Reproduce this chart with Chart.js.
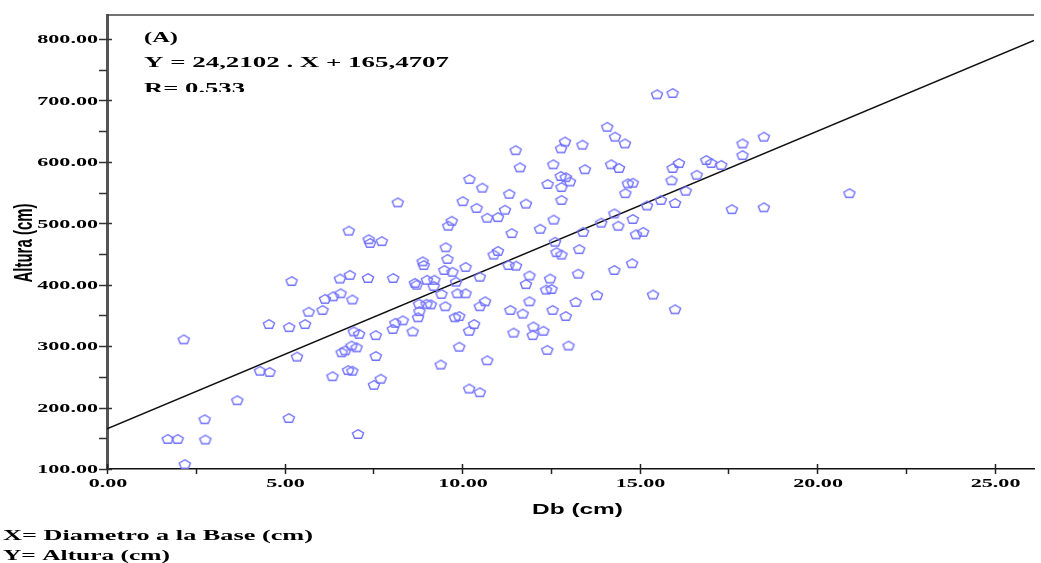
<!DOCTYPE html>
<html>
<head>
<meta charset="utf-8">
<script src="https://cdn.jsdelivr.net/npm/chart.js@4.4.1/dist/chart.umd.min.js"></script>
<style>
  html, body { margin: 0; padding: 0; background: #fff; }
</style>
</head>
<body>
<canvas id="chart" width="1041" height="563"></canvas>
<script>
// ---- Data ----
const dbValues = [
  1.71, 1.99, 2.19, 2.16, 2.75, 2.77, 3.67, 4.31, 4.58, 5.12,
  5.35, 4.56, 5.13, 5.58, 5.20, 5.68, 6.07, 6.14, 6.37, 6.58,
  6.91, 6.56, 6.84, 6.81, 6.95, 7.10, 6.61, 6.71, 6.89, 7.03,
  6.79, 6.91, 6.35, 7.07, 11.51, 11.63, 12.57, 10.21, 10.57, 11.33,
  12.41, 8.19, 10.02, 10.41, 11.80, 11.21, 10.71, 11.01, 12.58, 9.71,
  9.61, 7.37, 7.41, 7.74, 11.40, 12.20, 12.62, 9.54, 11.01, 10.89,
  9.59, 12.66, 12.80, 8.89, 8.92, 10.10, 9.50, 9.73, 11.31, 11.52,
  7.35, 8.06, 10.50, 11.90, 12.48, 8.67, 8.72, 9.01, 9.22, 9.20,
  9.83, 11.80, 9.42, 9.87, 10.10, 12.52, 12.37, 10.65, 10.50, 11.90,
  8.79, 9.00, 9.12, 9.53, 8.80, 8.76, 11.36, 11.71, 12.55, 9.80,
  9.92, 8.12, 8.33, 8.05, 8.61, 10.34, 10.20, 11.45, 12.01, 12.29,
  11.99, 7.57, 7.57, 9.92, 12.40, 9.40, 10.71, 7.71, 7.52, 10.20,
  10.50, 15.49, 15.93, 14.09, 14.31, 14.59, 12.90, 12.79, 13.39, 17.90,
  18.50, 17.90, 13.46, 14.20, 14.42, 12.78, 12.92, 13.04, 12.80, 16.11,
  15.93, 16.88, 17.02, 17.30, 14.67, 14.81, 15.90, 16.61, 14.60, 12.80,
  16.30, 15.60, 16.00, 15.21, 17.60, 18.50, 14.29, 14.81, 13.92, 14.40,
  13.41, 14.90, 15.10, 13.30, 14.79, 14.29, 13.27, 13.80, 13.20, 15.38,
  16.00, 12.92, 13.00, 20.91
];
const alturaValues = [
  149, 149, 108, 311, 181, 148, 212, 260, 258, 183,
  283, 336, 331, 336, 406, 356, 359, 377, 381, 386,
  376, 410, 416, 488, 324, 320, 290, 293, 301, 298,
  261, 260, 251, 157, 619, 591, 596, 572, 558, 548,
  564, 534, 536, 525, 532, 522, 509, 510, 506, 504,
  496, 474, 468, 471, 484, 491, 470, 461, 455, 449,
  442, 453, 449, 438, 432, 429, 424, 421, 432, 431,
  411, 411, 413, 415, 410, 403, 400, 408, 408, 398,
  405, 401, 385, 386, 386, 393, 392, 373, 365, 373,
  369, 369, 368, 365, 357, 347, 359, 353, 359, 347,
  349, 338, 342, 328, 324, 336, 325, 322, 332, 325,
  318, 318, 284, 299, 294, 270, 277, 247, 237, 231,
  225, 710, 712, 657, 641, 630, 633, 622, 628, 630,
  641, 611, 588, 596, 590, 577, 575, 568, 559, 598,
  590, 603, 598, 595, 565, 566, 570, 579, 549, 538,
  553, 538, 533, 529, 523, 526, 516, 507, 501, 496,
  486, 482, 486, 458, 435, 424, 418, 383, 372, 384,
  360, 349, 301, 549
];

// regression from the annotation
const slope = 24.2102;
const intercept = 165.4707;

// axis ranges and ticks
const xMin = 0, xMax = 26.11;
const yMin = 100, yMax = 839;
const xTicks = [0, 5, 10, 15, 20, 25];
const xTickLabels = ['0.00', '5.00', '10.00', '15.00', '20.00', '25.00'];
const xMinorTicks = [2.5, 7.5, 12.5, 17.5, 22.5];
const yTicks = [100, 200, 300, 400, 500, 600, 700, 800];
const yTickLabels = ['100.00', '200.00', '300.00', '400.00', '500.00', '600.00', '700.00', '800.00'];
const yMinorTicks = [150, 250, 350, 450, 550, 650, 750];

const SERIF = '"Liberation Serif", "Times New Roman", serif';
const SANS = '"Liberation Sans", Arial, sans-serif';
const SX = 1.7; // the source picture is stretched sideways

// pentagon marker
function makePentagon() {
    const c = document.createElement('canvas');
    c.width = 16;
    c.height = 14;
    const g = c.getContext('2d');
    g.strokeStyle = 'rgb(112,112,255)';
    g.lineWidth = 1.35;
    g.beginPath();
    for (let i = 0; i < 5; i++) {
        const a = -Math.PI / 2 + i * 2 * Math.PI / 5;
        const px = 8 + 5.9 * Math.cos(a);
        const py = 7.4 + 4.7 * Math.sin(a);
        if (i === 0) g.moveTo(px, py); else g.lineTo(px, py);
    }
    g.closePath();
    g.stroke();
    return c;
}

function fitText(ctx, text, x, y, width, font) {
    ctx.save();
    ctx.font = font;
    const w = ctx.measureText(text).width;
    ctx.translate(x, y);
    ctx.scale(width / w, 1);
    ctx.textAlign = 'left';
    ctx.fillText(text, 0, 0);
    ctx.restore();
}

const decorPlugin = {
    id: 'decor',
    afterDraw(chart) {
        const ctx = chart.ctx;
        const { left, right, top, bottom } = chart.chartArea;
        const xs = chart.scales.x, ys = chart.scales.y;
        ctx.save();

        // frame top
        ctx.strokeStyle = '#444';
        ctx.lineWidth = 1.5;
        ctx.beginPath();
        ctx.moveTo(left, top);
        ctx.lineTo(right, top);
        ctx.stroke();

        // y ticks
        ctx.strokeStyle = '#333';
        ctx.lineWidth = 1.5;
        yTicks.forEach(v => {
            const p = Math.round(ys.getPixelForValue(v)) + 0.5;
            ctx.beginPath(); ctx.moveTo(left - 8, p); ctx.lineTo(left + 5, p); ctx.stroke();
        });
        yMinorTicks.forEach(v => {
            const p = Math.round(ys.getPixelForValue(v)) + 0.5;
            ctx.beginPath(); ctx.moveTo(left - 8, p); ctx.lineTo(left, p); ctx.stroke();
        });
        // x ticks
        ctx.strokeStyle = '#222';
        xTicks.forEach(v => {
            const p = Math.round(xs.getPixelForValue(v)) + 0.5;
            ctx.beginPath(); ctx.moveTo(p, bottom - 5); ctx.lineTo(p, bottom + 5); ctx.stroke();
        });
        xMinorTicks.forEach(v => {
            const p = Math.round(xs.getPixelForValue(v)) + 0.5;
            ctx.beginPath(); ctx.moveTo(p, bottom); ctx.lineTo(p, bottom + 5); ctx.stroke();
        });

        // tick labels
        ctx.fillStyle = '#000';
        ctx.font = 'bold 13px ' + SERIF;
        yTicks.forEach((v, i) => {
            const p = ys.getPixelForValue(v);
            ctx.save();
            ctx.translate(left - 9, p + 1);
            ctx.scale(SX, 1);
            ctx.textAlign = 'right';
            ctx.textBaseline = 'middle';
            ctx.fillText(yTickLabels[i], 0, 0);
            ctx.restore();
        });
        xTicks.forEach((v, i) => {
            const p = xs.getPixelForValue(v);
            ctx.save();
            ctx.translate(p + 1, bottom + 18);
            ctx.scale(SX, 1);
            ctx.textAlign = 'center';
            ctx.textBaseline = 'alphabetic';
            ctx.fillText(xTickLabels[i], 0, 0);
            ctx.restore();
        });

        // annotation in the plot
        fitText(ctx, '(A)', 144, 42, 34, 'bold 14px ' + SERIF);
        fitText(ctx, 'Y = 24,2102 . X + 165,4707', 144, 67, 305, 'bold 14px ' + SERIF);
        ctx.save();
        ctx.beginPath();
        ctx.rect(140, 75, 200, 17);
        ctx.clip();
        fitText(ctx, 'R= 0.533', 144, 93, 101, 'bold 14px ' + SERIF);
        ctx.restore();

        // axis titles
        fitText(ctx, 'Db (cm)', 532, 514, 91, 'bold 15px ' + SANS);
        ctx.save();
        ctx.translate(32, 243);
        ctx.rotate(-Math.PI / 2);
        ctx.scale(1, SX);
        ctx.font = 'bold 15px ' + SANS;
        ctx.textAlign = 'center';
        ctx.textBaseline = 'alphabetic';
        ctx.fillText('Altura (cm)', 0, 0);
        ctx.restore();

        // notes below
        fitText(ctx, 'X= Diametro a la Base (cm)', 3, 540, 310, 'bold 15px ' + SERIF);
        fitText(ctx, 'Y= Altura (cm)', 3, 560, 167, 'bold 15px ' + SERIF);

        ctx.restore();
    }
};

const points = dbValues.map((x, i) => ({ x: x, y: alturaValues[i] }));
const regLine = [
    { x: xMin, y: intercept + slope * xMin },
    { x: xMax, y: intercept + slope * xMax }
];

new Chart(document.getElementById('chart').getContext('2d'), {
    type: 'scatter',
    data: {
        datasets: [
            {
                label: 'Altura',
                data: points,
                pointStyle: makePentagon(),
                pointRadius: 6,
                order: 1
            },
            {
                label: 'Regresion',
                data: regLine,
                showLine: true,
                borderColor: '#111',
                borderWidth: 1.6,
                pointRadius: 0,
                order: 2
            }
        ]
    },
    options: {
        responsive: false,
        animation: false,
        devicePixelRatio: 1,
        layout: { padding: { top: 15, right: 0, left: 0, bottom: 0 } },
        plugins: {
            legend: { display: false },
            tooltip: { enabled: false }
        },
        scales: {
            x: {
                type: 'linear',
                min: xMin,
                max: xMax,
                ticks: { display: false },
                grid: { display: false },
                border: { display: true, color: '#111', width: 1.5 },
                afterFit: (s) => { s.height = 94; }
            },
            y: {
                type: 'linear',
                min: yMin,
                max: yMax,
                ticks: { display: false },
                grid: { display: false },
                border: { display: true, color: '#555', width: 3 },
                afterFit: (s) => { s.width = 107; }
            }
        }
    },
    plugins: [decorPlugin]
});
</script>
</body>
</html>
